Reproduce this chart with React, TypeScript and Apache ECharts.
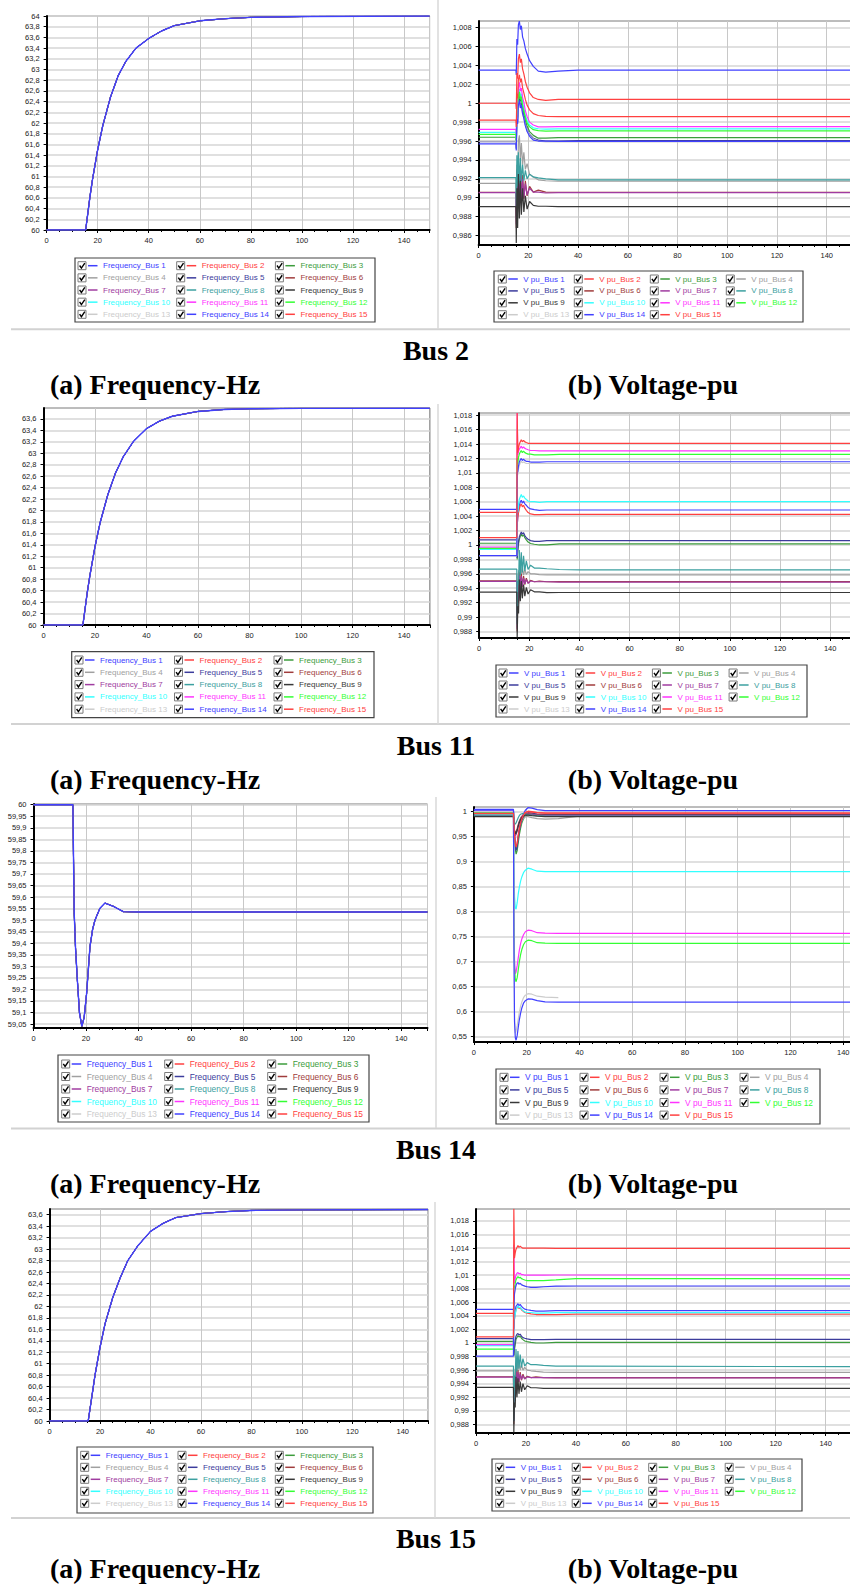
import React, { useEffect, useRef } from 'react';
import * as echarts from 'echarts';

// ---------- DATA ----------
const busNumbers = [1, 2, 3, 4, 5, 6, 7, 8, 9, 10, 11, 12, 13, 14, 15];
const busColors = ['#4040ff', '#ff4040', '#3c9c3c', '#a0a0a0', '#3c3c9c', '#a03c3c', '#a03ca0', '#3ca0a0', '#383838', '#33ffff', '#ff33ff', '#33ff33', '#cccccc', '#4040ff', '#ff4040'];
const busCaptions = ['Bus 2', 'Bus 11', 'Bus 14', 'Bus 15'];
const subCaptions = ['(a) Frequency-Hz', '(b) Voltage-pu'];

// frequency (Hz) vs time (s) — identical for all 15 buses
const freqBus2: [number, number][] = [[0, 60], [15.3, 60], [17, 60.63], [18, 60.95], [20, 61.5], [22, 61.95], [25, 62.48], [28, 62.88], [31, 63.15], [35, 63.4], [40, 63.58], [45, 63.72], [50, 63.82], [60, 63.91], [70, 63.95], [80, 63.975], [100, 63.99], [150, 64]];
const freqBus11: [number, number][] = [[0, 60], [15.3, 60], [17, 60.57], [18, 60.86], [20, 61.37], [22, 61.79], [25, 62.28], [28, 62.66], [31, 62.94], [35, 63.21], [40, 63.43], [45, 63.56], [50, 63.646], [60, 63.73], [70, 63.764], [80, 63.777], [100, 63.784], [150, 63.785]];
const freqBus14: [number, number][] = [[0, 60], [15, 60], [15.2, 59.8], [15.5, 59.53], [16, 59.38], [16.7, 59.24], [17.5, 59.1], [18.4, 59.04], [19.3, 59.08], [20.2, 59.18], [21.5, 59.385], [22.5, 59.46], [23.4, 59.5], [25.3, 59.552], [27.2, 59.574], [30.4, 59.56], [34.2, 59.537], [40, 59.535], [150, 59.535]];
const freqBus15: [number, number][] = [[0, 60], [15.3, 60], [17, 60.5], [18, 60.8], [20, 61.29], [22, 61.7], [25, 62.15], [28, 62.5], [31, 62.8], [35, 63.06], [40, 63.31], [45, 63.45], [50, 63.55], [60, 63.62], [70, 63.655], [80, 63.675], [100, 63.685], [150, 63.69]];

// voltage (pu): one row per bus (1..15), sampled at voltTimes
const voltTimes = [0, 15, 15.15, 15.4, 15.7, 16, 16.4, 16.8, 17.2, 17.7, 18.2, 18.8, 19.5, 20.5, 22, 24, 27, 32, 40, 150];

const voltBus2: (number | null)[][] = [
  [1.0035, 1.0035, 1.0030, 1.0068, 1.0062, 1.0083, 1.0087, 1.0078, 1.0082, 1.0070, 1.0066, 1.0058, 1.0052, 1.0045, 1.0039, 1.0034, 1.0033, 1.0034, 1.0035, 1.0035],
  [1.0000, 1.0000, 0.9994, 1.0032, 1.0026, 1.0047, 1.0052, 1.0043, 1.0047, 1.0036, 1.0031, 1.0023, 1.0017, 1.0011, 1.0006, 1.0004, 1.0003, 1.0004, 1.0004, 1.0004],
  [0.9964, 0.9964, 0.9958, 0.9990, 0.9985, 1.0005, 1.0010, 1.0002, 1.0005, 0.9995, 0.9990, 0.9982, 0.9976, 0.9970, 0.9966, 0.9963, 0.9963, 0.99636, 0.99636, 0.99636],
  [0.99153, 0.99153, 0.9880, 0.9935, 0.9915, 0.9960, 0.9966, 0.9940, 0.9958, 0.9935, 0.9948, 0.9930, 0.9936, 0.9925, 0.9922, 0.9919, 0.9918, 0.99175, 0.99175, 0.99175],
  [0.99594, 0.99594, 0.9952, 0.9985, 0.9980, 1.0000, 1.0005, 0.9997, 1.0000, 0.9991, 0.9986, 0.9978, 0.9972, 0.9967, 0.9963, 0.9961, 0.9960, 0.9960, 0.99604, 0.99604],
  [0.99058, 0.99058, 0.9868, 0.9930, 0.9885, 0.9935, 0.9892, 0.9930, 0.9896, 0.9924, 0.9899, 0.9918, 0.9902, 0.9912, 0.9906, 0.9908, 0.9906, 0.99058, 0.99058, 0.99058],
  [0.99055, 0.99055, 0.9872, 0.9925, 0.9888, 0.9930, 0.9895, 0.9926, 0.9898, 0.9920, 0.9900, 0.9915, 0.9903, 0.9910, 0.9906, 0.9906, 0.9905, 0.99055, 0.99055, 0.99055],
  [0.99213, 0.99213, 0.9890, 0.9945, 0.9912, 0.9948, 0.9915, 0.9942, 0.9917, 0.9935, 0.9918, 0.9929, 0.9920, 0.9925, 0.9922, 0.9921, 0.9920, 0.9919, 0.99188, 0.99188],
  [0.98906, 0.98906, 0.9852, 0.9910, 0.9868, 0.9925, 0.9878, 0.9918, 0.9882, 0.9910, 0.9885, 0.9902, 0.9888, 0.9896, 0.9892, 0.9891, 0.9891, 0.98906, 0.98906, 0.98906],
  [0.99692, 0.99692, 0.9962, 0.9995, 0.9990, 1.0010, 1.0015, 1.0007, 1.0010, 1.0000, 0.9995, 0.9987, 0.9982, 0.9977, 0.9974, 0.9973, 0.99725, 0.99728, 0.99728, 0.99728],
  [0.99724, 0.99724, 0.9966, 1.0000, 0.9995, 1.0017, 1.0022, 1.0013, 1.0016, 1.0006, 1.0001, 0.9992, 0.9986, 0.9980, 0.9977, 0.9975, 0.9975, 0.99752, 0.99752, 0.99752],
  [0.99671, 0.99671, 0.9960, 0.9992, 0.9987, 1.0007, 1.0012, 1.0004, 1.0007, 0.9997, 0.9992, 0.9985, 0.9979, 0.9975, 0.9972, 0.9971, 0.99705, 0.99707, 0.99707, 0.99707],
  [0.9960, 0.9960, 0.9953, 0.9985, 0.9980, 0.9998, 1.0002, 0.9995, 0.9997, 0.9988, 0.9984, 0.9977, 0.9971, 0.9966, 0.9962, 0.9960, 0.9959, 0.9959, 0.9959, 0.9959],
  [0.99569, 0.99569, 0.9950, 0.9983, 0.9978, 0.9998, 1.0003, 0.9995, 0.9998, 0.9989, 0.9984, 0.9976, 0.9970, 0.9965, 0.9961, 0.9960, 0.9960, 0.99596, 0.99596, 0.99596],
  [0.99822, 0.99822, 0.9975, 1.0010, 1.0005, 1.0025, 1.0030, 1.0022, 1.0026, 1.0016, 1.0011, 1.0004, 0.9998, 0.9993, 0.9989, 0.9987, 0.9986, 0.99858, 0.99858, 0.99858],
];

const voltBus11: (number | null)[][] = [
  [1.00494, 1.00494, 1.0025, 1.0040, 1.0048, 1.0055, 1.0060, 1.0062, 1.0058, 1.0061, 1.0057, 1.0055, 1.0052, 1.0050, 1.0049, 1.0048, 1.00485, 1.00485, 1.00485, 1.00485],
  [1.00453, 1.00453, 1.0028, 1.0038, 1.0045, 1.0050, 1.0055, 1.0057, 1.0053, 1.0055, 1.0051, 1.0048, 1.0045, 1.0043, 1.0042, 1.0042, 1.00425, 1.00425, 1.00425, 1.00425],
  [1.00024, 1.00024, 0.9980, 0.9992, 1.0002, 1.0008, 1.0012, 1.0015, 1.0012, 1.0014, 1.0010, 1.0007, 1.0004, 1.0002, 1.0001, 1.0000, 1.0000, 1.00014, 1.00014, 1.00014],
  [0.9960, 0.9960, 0.9890, 0.9935, 0.9965, 0.9948, 0.9972, 0.9955, 0.9970, 0.9958, 0.9966, 0.9959, 0.9963, 0.9960, 0.9960, 0.9959, 0.99585, 0.99585, 0.99585, 0.99585],
  [1.0007, 1.0007, 0.9982, 0.9995, 1.0005, 1.0011, 1.0015, 1.0018, 1.0015, 1.0017, 1.0013, 1.0010, 1.0008, 1.0006, 1.0005, 1.0005, 1.0006, 1.0006, 1.0006, 1.0006],
  [0.99502, 0.99502, 0.9880, 0.9935, 0.9920, 0.9962, 0.9938, 0.9960, 0.9942, 0.9957, 0.9945, 0.9954, 0.9947, 0.9951, 0.9949, 0.9950, 0.9949, 0.99493, 0.99493, 0.99493],
  [0.99495, 0.99495, 0.9884, 0.9930, 0.9924, 0.9958, 0.9940, 0.9957, 0.9943, 0.9954, 0.9946, 0.9952, 0.9947, 0.9950, 0.9949, 0.9949, 0.9949, 0.99485, 0.99485, 0.99485],
  [0.99664, 0.99664, 0.9890, 0.9950, 0.9945, 0.9993, 0.9958, 0.9990, 0.9962, 0.9985, 0.9964, 0.9978, 0.9966, 0.9972, 0.9968, 0.9968, 0.9967, 0.9966, 0.99655, 0.99655],
  [0.99345, 0.99345, 0.9872, 0.9915, 0.9905, 0.9952, 0.9922, 0.9950, 0.9926, 0.9945, 0.9929, 0.9941, 0.9932, 0.9938, 0.9935, 0.9935, 0.9934, 0.99341, 0.99341, 0.99341],
  [0.9994, 0.9994, 1.0078, 1.0045, 1.0055, 1.0063, 1.0067, 1.0070, 1.0066, 1.0068, 1.0065, 1.0063, 1.0061, 1.0060, 1.0060, 1.0059, 1.0060, 1.0060, 1.0060, 1.0060],
  [0.9997, 0.9997, 1.0183, 1.0125, 1.0130, 1.0133, 1.0135, 1.0137, 1.0134, 1.0136, 1.0134, 1.0133, 1.0132, 1.0131, 1.0131, 1.01306, 1.01306, 1.01306, 1.01306, 1.01306],
  [0.99954, 0.99954, 1.0120, 1.0112, 1.0122, 1.0126, 1.0129, 1.0131, 1.0128, 1.0130, 1.0128, 1.0127, 1.0126, 1.0126, 1.0125, 1.0125, 1.0125, 1.01256, 1.01256, 1.01256],
  [0.9985, 0.9985, 1.0095, 1.0098, 1.0106, 1.0110, 1.0114, 1.0116, 1.0114, 1.0115, 1.0114, 1.0113, 1.0113, 1.0113, 1.0113, 1.0113, 1.0113, 1.0113, 1.0113, 1.0113],
  [0.99853, 0.99853, 1.0100, 1.0102, 1.0110, 1.0115, 1.0118, 1.0120, 1.0117, 1.0119, 1.0117, 1.0116, 1.0116, 1.0115, 1.0115, 1.0115, 1.01154, 1.01154, 1.01154, 1.01154],
  [1.00102, 1.00102, 1.0183, 1.0128, 1.0135, 1.0140, 1.0143, 1.0146, 1.0143, 1.0145, 1.0143, 1.0142, 1.0141, 1.0141, 1.0141, 1.0141, 1.01408, 1.01408, 1.01408, 1.01408],
];

const voltBus14: (number | null)[][] = [
  [1.0045, 1.0045, 0.985, 0.955, 0.935, 0.925, 0.932, 0.948, 0.962, 0.976, 0.987, 0.996, 1.003, 1.008, 1.007, 1.004, 1.002, 1.002, 1.002, 1.002],
  [0.999, 0.999, 0.980, 0.955, 0.938, 0.930, 0.937, 0.952, 0.966, 0.978, 0.987, 0.994, 0.999, 1.001, 1.000, 0.998, 0.997, 0.997, 0.997, 0.997],
  [0.998, 0.998, 0.975, 0.945, 0.925, 0.915, 0.922, 0.938, 0.953, 0.967, 0.978, 0.986, 0.991, 0.994, 0.994, 0.993, 0.992, 0.992, 0.992, 0.992],
  [0.995, 0.995, 0.975, 0.950, 0.935, 0.928, 0.935, 0.950, 0.963, 0.974, 0.982, 0.987, 0.990, 0.990, 0.988, 0.986, 0.985, 0.986, 0.991, 0.991],
  [0.999, 0.999, 0.975, 0.948, 0.930, 0.922, 0.930, 0.946, 0.961, 0.974, 0.984, 0.991, 0.996, 0.998, 0.997, 0.995, 0.994, 0.994, 0.994, 0.994],
  [0.991, 0.991, 0.975, 0.962, 0.958, 0.960, 0.966, 0.974, 0.981, 0.987, 0.991, 0.994, 0.996, 0.996, 0.995, 0.994, 0.993, 0.993, 0.993, 0.993],
  [0.992, 0.992, 0.975, 0.958, 0.952, 0.954, 0.961, 0.970, 0.978, 0.985, 0.990, 0.993, 0.995, 0.995, 0.994, 0.993, 0.992, 0.992, 0.992, 0.992],
  [0.993, 0.993, 0.985, 0.978, 0.975, 0.978, 0.983, 0.988, 0.992, 0.995, 0.996, 0.996, 0.995, 0.994, 0.993, 0.992, 0.991, 0.991, 0.991, 0.991],
  [0.990, 0.990, 0.975, 0.962, 0.956, 0.957, 0.963, 0.971, 0.978, 0.984, 0.988, 0.991, 0.993, 0.993, 0.992, 0.991, 0.990, 0.990, 0.990, 0.990],
  [1.000, 1.000, 0.900, 0.830, 0.808, 0.805, 0.818, 0.835, 0.848, 0.861, 0.870, 0.878, 0.883, 0.887, 0.885, 0.881, 0.880, 0.880, 0.880, 0.880],
  [1.001, 1.001, 0.820, 0.700, 0.676, 0.680, 0.692, 0.707, 0.722, 0.736, 0.746, 0.754, 0.760, 0.763, 0.762, 0.758, 0.757, 0.7567, 0.7567, 0.7567],
  [0.999, 0.999, 0.800, 0.690, 0.665, 0.660, 0.668, 0.683, 0.699, 0.714, 0.725, 0.734, 0.740, 0.743, 0.742, 0.738, 0.737, 0.7367, 0.7367, 0.7367],
  [1.000, 1.000, 0.760, 0.585, 0.557, 0.562, 0.572, 0.585, 0.598, 0.611, 0.620, 0.628, 0.633, 0.636, 0.635, 0.631, 0.629, 0.628, null, null],
  [1.003, 1.003, 0.750, 0.580, 0.548, 0.543, 0.552, 0.568, 0.583, 0.597, 0.608, 0.617, 0.622, 0.6255, 0.625, 0.622, 0.6195, 0.619, 0.619, 0.619],
  [0.9965, 0.9965, 0.978, 0.952, 0.936, 0.929, 0.936, 0.951, 0.965, 0.977, 0.986, 0.993, 0.998, 1.000, 0.999, 0.998, 0.997, 0.997, 0.997, 0.997],
];

const voltBus15: (number | null)[][] = [
  [1.00496, 1.00496, 1.0020, 1.0038, 1.0048, 1.0054, 1.0056, 1.0058, 1.0055, 1.0057, 1.0054, 1.0052, 1.0050, 1.0049, 1.0048, 1.0047, 1.0047, 1.00477, 1.00477, 1.00477],
  [1.00437, 1.00437, 1.0022, 1.0035, 1.0044, 1.0049, 1.0052, 1.0054, 1.0051, 1.0052, 1.0049, 1.0047, 1.0045, 1.0044, 1.0043, 1.0042, 1.0042, 1.0042, 1.00427, 1.00427],
  [1.00024, 1.00024, 0.9980, 0.9990, 0.9998, 1.0005, 1.0008, 1.0011, 1.0009, 1.0010, 1.0007, 1.0005, 1.0003, 1.0002, 1.0001, 1.0000, 1.0000, 1.00009, 1.00009, 1.00009],
  [0.9959, 0.9959, 0.9892, 0.9940, 0.9962, 0.9950, 0.9975, 0.9958, 0.9972, 0.9960, 0.9968, 0.9960, 0.9964, 0.9960, 0.9959, 0.9958, 0.9957, 0.99566, 0.99566, 0.99566],
  [1.00063, 1.00063, 0.9982, 0.9995, 1.0004, 1.0010, 1.0013, 1.0014, 1.0012, 1.0013, 1.0010, 1.0008, 1.0007, 1.0006, 1.0005, 1.0005, 1.0005, 1.00053, 1.00053, 1.00053],
  [0.99502, 0.99502, 0.9880, 0.9938, 0.9922, 0.9963, 0.9938, 0.9960, 0.9942, 0.9957, 0.9945, 0.9954, 0.9947, 0.9951, 0.9949, 0.9950, 0.9949, 0.9949, 0.99488, 0.99488],
  [0.99495, 0.99495, 0.9885, 0.9932, 0.9926, 0.9958, 0.9941, 0.9957, 0.9943, 0.9954, 0.9946, 0.9952, 0.9947, 0.9950, 0.9949, 0.9949, 0.9949, 0.99485, 0.99485, 0.99485],
  [0.99659, 0.99659, 0.9885, 0.9952, 0.9945, 0.9991, 0.9958, 0.9988, 0.9962, 0.9983, 0.9964, 0.9977, 0.9966, 0.9971, 0.9968, 0.9968, 0.9967, 0.9966, 0.9966, 0.9965],
  [0.99345, 0.99345, 0.9868, 0.9912, 0.9905, 0.9950, 0.9920, 0.9948, 0.9925, 0.9943, 0.9928, 0.9940, 0.9931, 0.9937, 0.9934, 0.9934, 0.9933, 0.9933, 0.9933, 0.9933],
  [0.9996, 0.9996, 1.0068, 1.0035, 1.0042, 1.0048, 1.0052, 1.0055, 1.0052, 1.0053, 1.0050, 1.0048, 1.0046, 1.0045, 1.0045, 1.0044, 1.0044, 1.00447, 1.00447, 1.00447],
  [0.99975, 0.99975, 1.0145, 1.0088, 1.0095, 1.0100, 1.0103, 1.0104, 1.0102, 1.0103, 1.0101, 1.0101, 1.0100, 1.0100, 1.0100, 1.0100, 1.0100, 1.01003, 1.01003, 1.01003],
  [0.99911, 0.99911, 1.0085, 1.0080, 1.0088, 1.0093, 1.0096, 1.0098, 1.0096, 1.0097, 1.0095, 1.0094, 1.0093, 1.0092, 1.0092, 1.0092, 1.0092, 1.0093, 1.00949, 1.00949],
  [0.9980, 0.9980, 1.0070, 1.0074, 1.0080, 1.0085, 1.0088, 1.0089, 1.0087, 1.0088, 1.0086, 1.0085, 1.0084, 1.0083, 1.0083, 1.0083, 1.0083, 1.0083, 1.0083, 1.0083],
  [0.99807, 0.99807, 1.0050, 1.0072, 1.0080, 1.0085, 1.0088, 1.0089, 1.0087, 1.0088, 1.0086, 1.0085, 1.0084, 1.0083, 1.0082, 1.0082, 1.0083, 1.0084, 1.00841, 1.00841],
  [1.0009, 1.0009, 1.0198, 1.0125, 1.0133, 1.0138, 1.0141, 1.0144, 1.0141, 1.0143, 1.0141, 1.0140, 1.0140, 1.0140, 1.0140, 1.0140, 1.0140, 1.01397, 1.01397, 1.01397],
];

// tick labels
const timeTicks = [0, 20, 40, 60, 80, 100, 120, 140];
const freqTicks64 = [60, 60.2, 60.4, 60.6, 60.8, 61, 61.2, 61.4, 61.6, 61.8, 62, 62.2, 62.4, 62.6, 62.8, 63, 63.2, 63.4, 63.6, 63.8, 64];
const freqTicks636 = [60, 60.2, 60.4, 60.6, 60.8, 61, 61.2, 61.4, 61.6, 61.8, 62, 62.2, 62.4, 62.6, 62.8, 63, 63.2, 63.4, 63.6];
const freqTicksBus14 = [59.05, 59.1, 59.15, 59.2, 59.25, 59.3, 59.35, 59.4, 59.45, 59.5, 59.55, 59.6, 59.65, 59.7, 59.75, 59.8, 59.85, 59.9, 59.95, 60];
const voltTicksBus2 = [0.986, 0.988, 0.99, 0.992, 0.994, 0.996, 0.998, 1, 1.002, 1.004, 1.006, 1.008];
const voltTicks1018 = [0.988, 0.99, 0.992, 0.994, 0.996, 0.998, 1, 1.002, 1.004, 1.006, 1.008, 1.01, 1.012, 1.014, 1.016, 1.018];
const voltTicksBus14 = [0.55, 0.6, 0.65, 0.7, 0.75, 0.8, 0.85, 0.9, 0.95, 1];

// ---------- LAYOUT ----------
type Panel = {
  kind: 'freq' | 'volt';
  freq?: [number, number][];
  volt?: (number | null)[][];
  ticks: number[];
  yMin: number;
  yMax: number;
  grid: { left: number; top: number; width: number; height: number };
  legend: { box: number[]; x0: number; dx: number; y0: number; dy: number; cols: number; fs: number };
};

const panels: Panel[] = [
  { kind: 'freq', freq: freqBus2, ticks: freqTicks64, yMin: 60, yMax: 64, grid: { left: 46.6, top: 16, width: 383, height: 214 }, legend: { box: [75, 258, 300, 64], x0: 78, dx: 98.7, y0: 265.7, dy: 12.15, cols: 3, fs: 8 } },
  { kind: 'volt', volt: voltBus2, ticks: voltTicksBus2, yMin: 0.985, yMax: 1.0087, grid: { left: 478.6, top: 21, width: 373, height: 224 }, legend: { box: [494, 271, 309, 51], x0: 498.3, dx: 76, y0: 279, dy: 11.9, cols: 4, fs: 8 } },
  { kind: 'freq', freq: freqBus11, ticks: freqTicks636, yMin: 60, yMax: 63.79, grid: { left: 43.5, top: 408, width: 386.3, height: 217 }, legend: { box: [71.7, 651.7, 302.3, 66], x0: 75, dx: 99.5, y0: 660, dy: 12.3, cols: 3, fs: 8 } },
  { kind: 'volt', volt: voltBus11, ticks: voltTicks1018, yMin: 0.9871, yMax: 1.0183, grid: { left: 479.2, top: 413, width: 376, height: 225 }, legend: { box: [496, 665, 311, 52], x0: 499, dx: 76.7, y0: 673, dy: 12, cols: 4, fs: 8 } },
  { kind: 'freq', freq: freqBus14, ticks: freqTicksBus14, yMin: 59.033, yMax: 60.003, grid: { left: 33.5, top: 804, width: 394, height: 224 }, legend: { box: [58, 1055, 311, 67], x0: 61.7, dx: 103, y0: 1064, dy: 12.5, cols: 3, fs: 8.4 } },
  { kind: 'volt', volt: voltBus14, ticks: voltTicksBus14, yMin: 0.5394, yMax: 1.0094, grid: { left: 473.9, top: 807, width: 395.7, height: 235 }, legend: { box: [496, 1069, 324, 55], x0: 500, dx: 80, y0: 1077.3, dy: 12.6, cols: 4, fs: 8.4 } },
  { kind: 'freq', freq: freqBus15, ticks: freqTicks636, yMin: 60, yMax: 63.7, grid: { left: 49.6, top: 1209, width: 378.4, height: 212 }, legend: { box: [77, 1447, 296, 66], x0: 80.7, dx: 97.3, y0: 1455.3, dy: 12, cols: 3, fs: 8 } },
  { kind: 'volt', volt: voltBus15, ticks: voltTicks1018, yMin: 0.98672, yMax: 1.01977, grid: { left: 476, top: 1209, width: 374.6, height: 224 }, legend: { box: [492, 1459, 310, 52], x0: 495.7, dx: 76.5, y0: 1467.3, dy: 12, cols: 4, fs: 8 } },
];

const rowSeparatorsY = [329.3, 724, 1128.5, 1518];
const columnSeparators = [[438, 0, 329], [438, 404, 724], [436, 797, 1128], [435, 1202, 1518]];
const busCaptionY = [350.5, 745, 1149.5, 1538];
const subCaptionY = [384, 779, 1183.5, 1568.5];

const SANS = '"Liberation Sans", Arial, sans-serif';
const SERIF = '"Liberation Serif", "Times New Roman", serif';

const fmtComma = (v: number) => String(Number(Number(v).toFixed(4))).replace('.', ',');

function seriesName(kind: 'freq' | 'volt', n: number) {
  return kind === 'freq' ? `Frequency_Bus ${n}` : `V pu_Bus ${n}`;
}

function buildOption() {
  const grid: any[] = [];
  const xAxis: any[] = [];
  const yAxis: any[] = [];
  const series: any[] = [];
  const elements: any[] = [];

  panels.forEach((p, i) => {
    grid.push({
      ...p.grid,
      show: true,
      backgroundColor: '#ffffff',
      borderColor: '#7a7a7a',
      borderWidth: 1,
      containLabel: false,
      outerBoundsMode: 'none',
    });
    xAxis.push({
      type: 'value',
      gridIndex: i,
      min: 0,
      max: 150,
      interval: 20,
      axisLine: { show: true, onZero: false, lineStyle: { color: '#000', width: 2 } },
      axisTick: { show: true, length: 3, lineStyle: { color: '#000' } },
      minorTick: { show: true, splitNumber: 4, length: 2, lineStyle: { color: '#000' } },
      axisLabel: { fontSize: 7.5, color: '#222', fontFamily: SANS, margin: 6, customValues: timeTicks, formatter: (v: number) => String(v) },
      splitLine: { show: true, lineStyle: { color: '#c8c8c8', width: 1 } },
    });
    yAxis.push({
      type: 'value',
      gridIndex: i,
      min: p.yMin,
      max: p.yMax,
      axisLine: { show: true, onZero: false, lineStyle: { color: '#000', width: 2 } },
      axisTick: { show: true, length: 3, customValues: p.ticks, lineStyle: { color: '#000' } },
      axisLabel: { fontSize: 7.5, color: '#222', fontFamily: SANS, margin: 7, customValues: p.ticks, formatter: fmtComma },
      splitLine: { show: true, lineStyle: { color: '#d6d6d6', width: 1.6 } },
    });

    if (p.kind === 'freq' && p.freq) {
      // draw Bus 15 first so that Bus 1 (blue) ends on top, as in the reference
      for (let k = busNumbers.length - 1; k >= 0; k--) {
        series.push({
          type: 'line',
          name: seriesName('freq', busNumbers[k]),
          xAxisIndex: i,
          yAxisIndex: i,
          data: p.freq,
          showSymbol: false,
          symbol: 'none',
          silent: true,
          lineStyle: { color: busColors[k], width: k === 0 ? 1.4 : 0.6 },
          itemStyle: { color: busColors[k] },
        });
      }
    } else if (p.volt) {
      p.volt.forEach((row, k) => {
        const data = row
          .map((v, j) => [voltTimes[j], v])
          .filter((d) => d[1] !== null && d[1] !== undefined);
        series.push({
          type: 'line',
          name: seriesName('volt', busNumbers[k]),
          xAxisIndex: i,
          yAxisIndex: i,
          data,
          showSymbol: false,
          symbol: 'none',
          silent: true,
          lineStyle: { color: busColors[k], width: 1.2 },
          itemStyle: { color: busColors[k] },
        });
      });
    }

    // legend drawn as graphic
    const L = p.legend;
    elements.push({
      type: 'rect',
      silent: true,
      shape: { x: L.box[0], y: L.box[1], width: L.box[2], height: L.box[3] },
      style: { fill: '#ffffff', stroke: '#444', lineWidth: 1.2 },
    });
    busNumbers.forEach((n, k) => {
      const r = Math.floor(k / L.cols);
      const c = k % L.cols;
      const x = L.x0 + c * L.dx;
      const yc = L.y0 + r * L.dy;
      const color = busColors[k];
      elements.push({
        type: 'rect', silent: true,
        shape: { x: x, y: yc - 4, width: 8, height: 8 },
        style: { fill: '#ffffff', stroke: '#7a7a7a', lineWidth: 1 },
      });
      elements.push({
        type: 'polyline', silent: true,
        shape: { points: [[x + 1.6, yc - 0.2], [x + 3.4, yc + 2.4], [x + 6.8, yc - 2.6]] },
        style: { stroke: '#000', lineWidth: 1.4, fill: null },
      });
      elements.push({
        type: 'line', silent: true,
        shape: { x1: x + 10, y1: yc, x2: x + 19.5, y2: yc },
        style: { stroke: color, lineWidth: 1.5 },
      });
      elements.push({
        type: 'text', silent: true,
        x: x + 25, y: yc,
        style: { text: seriesName(p.kind, n), fill: color, fontSize: L.fs, fontFamily: SANS, align: 'left', verticalAlign: 'middle' },
      });
    });
  });

  rowSeparatorsY.forEach((y) => {
    elements.push({ type: 'line', silent: true, shape: { x1: 11, y1: y, x2: 850, y2: y }, style: { stroke: '#d2d2d2', lineWidth: 2 } });
  });
  columnSeparators.forEach(([x, y1, y2]) => {
    elements.push({ type: 'line', silent: true, shape: { x1: x, y1, x2: x, y2 }, style: { stroke: '#d8d8d8', lineWidth: 1.5 } });
  });
  busCaptions.forEach((t, r) => {
    elements.push({ type: 'text', silent: true, x: 436, y: busCaptionY[r], style: { text: t, fill: '#000', fontSize: 28, fontWeight: 'bold', fontFamily: SERIF, align: 'center', verticalAlign: 'middle' } });
    elements.push({ type: 'text', silent: true, x: 155, y: subCaptionY[r], style: { text: subCaptions[0], fill: '#000', fontSize: 28, fontWeight: 'bold', fontFamily: SERIF, align: 'center', verticalAlign: 'middle' } });
    elements.push({ type: 'text', silent: true, x: 653, y: subCaptionY[r], style: { text: subCaptions[1], fill: '#000', fontSize: 28, fontWeight: 'bold', fontFamily: SERIF, align: 'center', verticalAlign: 'middle' } });
  });

  return {
    animation: false,
    backgroundColor: '#ffffff',
    grid,
    xAxis,
    yAxis,
    series,
    graphic: { elements },
  };
}

export default function App() {
  const ref = useRef<HTMLDivElement>(null);
  useEffect(() => {
    if (!ref.current) return;
    const chart = echarts.init(ref.current, null, { renderer: 'svg', width: 850, height: 1586 });
    chart.setOption(buildOption() as any);
    return () => {
      chart.dispose();
    };
  }, []);
  return (
    <div
      ref={ref}
      style={{ position: 'absolute', left: 0, top: 0, width: 850, height: 1586, background: '#ffffff', overflow: 'hidden' }}
    />
  );
}
